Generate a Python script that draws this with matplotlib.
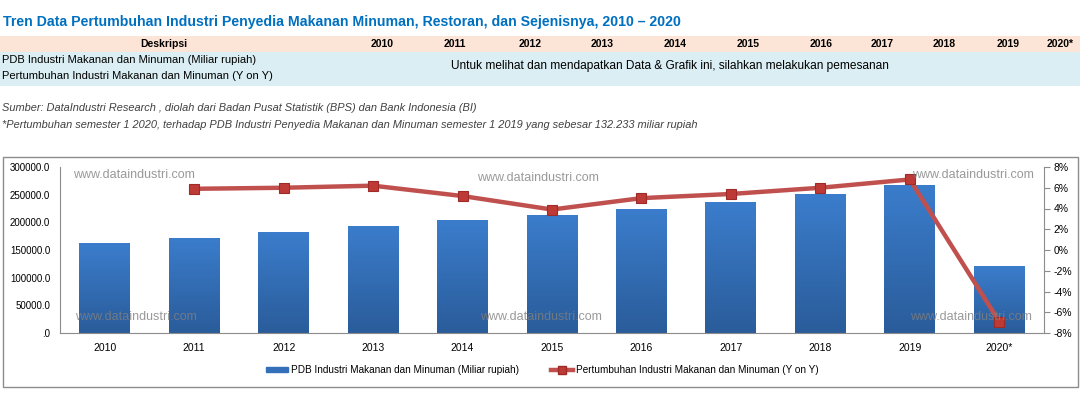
import matplotlib.pyplot as plt
import matplotlib.patches as mpatches
from matplotlib.lines import Line2D
from matplotlib.colors import LinearSegmentedColormap
import numpy as np

years = ['2010', '2011', '2012', '2013', '2014', '2015', '2016', '2017', '2018', '2019', '2020*']
pdb = [162600, 171700, 182500, 193400, 204200, 213200, 224000, 236700, 251200, 268000, 121000]
growth = [None, 5.9, 6.0, 6.2, 5.2, 3.9, 5.0, 5.4, 6.0, 6.8, -6.9]

head_years = years
head_x = [382, 455, 530, 602, 675, 748, 821, 882, 944, 1008, 1060]

W, H = 1088, 397
plt.rcParams['font.family'] = ['Liberation Sans', 'DejaVu Sans']

fig = plt.figure(figsize=(W / 100, H / 100), dpi=100)


def fx(x):
    return x / W


def fy(y):
    return 1 - y / H


# header table
fig.patches.append(mpatches.Rectangle((fx(0), fy(52)), fx(1080), 16 / H, transform=fig.transFigure,
                                      facecolor='#FCE4D6', edgecolor='none', zorder=-2))
fig.patches.append(mpatches.Rectangle((fx(0), fy(86)), fx(1080), 34 / H, transform=fig.transFigure,
                                      facecolor='#DAEEF3', edgecolor='none', zorder=-2))
fig.text(fx(3), fy(22), 'Tren Data Pertumbuhan Industri Penyedia Makanan Minuman, Restoran, dan Sejenisnya, 2010 \u2013 2020',
         color='#0070C0', fontsize=10.2, fontweight='bold', va='center')
fig.text(fx(164), fy(44), 'Deskripsi', fontsize=7.5, fontweight='bold', ha='center', va='center')
for hx, t in zip(head_x, head_years):
    fig.text(fx(hx), fy(44), t, fontsize=7.5, fontweight='bold', ha='center', va='center')
fig.text(fx(2), fy(60), 'PDB Industri Makanan dan Minuman (Miliar rupiah)', fontsize=8, va='center')
fig.text(fx(2), fy(76), 'Pertumbuhan Industri Makanan dan Minuman (Y on Y)', fontsize=8, va='center')
fig.text(fx(670), fy(66), 'Untuk melihat dan mendapatkan Data & Grafik ini, silahkan melakukan pemesanan',
         fontsize=8.6, ha='center', va='center')
fig.text(fx(2), fy(108), 'Sumber: DataIndustri Research , diolah dari Badan Pusat Statistik (BPS) dan Bank Indonesia (BI)',
         fontsize=7.9, style='italic', color='#404040', va='center')
fig.text(fx(2), fy(125), '*Pertumbuhan semester 1 2020, terhadap PDB Industri Penyedia Makanan dan Minuman semester 1 2019 yang sebesar 132.233 miliar rupiah',
         fontsize=7.9, style='italic', color='#404040', va='center')

# chart frame
fig.patches.append(mpatches.Rectangle((fx(3), fy(387)), 1075 / W, 230 / H, transform=fig.transFigure,
                                      facecolor='none', edgecolor='#8c8c8c', linewidth=1, zorder=-1))

ax = fig.add_axes([fx(60), fy(333), 984 / W, 166 / H])
x = np.arange(len(years))
bars = ax.bar(x, pdb, width=0.57, color='#3470BA', zorder=2)
grad = np.linspace(0, 1, 256).reshape(-1, 1)
cmap = LinearSegmentedColormap.from_list('g', ['#2A5C9A', '#3B7DCC'])
for b in bars:
    im = ax.imshow(grad, extent=[b.get_x(), b.get_x() + b.get_width(), 0, b.get_height()],
                   origin='lower', aspect='auto', cmap=cmap, zorder=2)
    im.set_clip_path(b)
ax.set_xlim(-0.5, len(years) - 0.5)
ax.set_ylim(0, 300000)
ax.set_yticks(np.arange(0, 300001, 50000))
ax.set_yticklabels(['.0' if v == 0 else '%d.0' % v for v in range(0, 300001, 50000)])
ax.set_xticks(x)
ax.set_xticklabels(years)
ax.tick_params(axis='y', length=0, labelsize=7, pad=7)
ax.tick_params(axis='x', length=0, labelsize=7.5, pad=7)
for s in ['top', 'right']:
    ax.spines[s].set_visible(False)
for s in ['left', 'bottom']:
    ax.spines[s].set_color('#8c8c8c')

ax2 = ax.twinx()
gx = [i for i, g in enumerate(growth) if g is not None]
gy = [g for g in growth if g is not None]
ax2.plot(gx, gy, color='#C0504D', linewidth=3.2, marker='s', markersize=7.5,
         markerfacecolor='#BE3A36', markeredgecolor='#9E2B28', markeredgewidth=0.8, zorder=3)
ax2.set_ylim(-8, 8)
ax2.set_yticks(np.arange(-8, 9, 2))
ax2.set_yticklabels(['%d%%' % v for v in range(-8, 9, 2)])
ax2.tick_params(axis='y', length=4, color='#8c8c8c', labelsize=7.5, pad=3)
for s in ['top', 'left', 'bottom']:
    ax2.spines[s].set_visible(False)
ax2.spines['right'].set_color('#8c8c8c')
ax2.set_xlim(-0.5, len(years) - 0.5)

# watermarks
for wx, wy in [(73, 175), (477, 178), (912, 175), (75, 317), (480, 317), (910, 317)]:
    fig.text(fx(wx), fy(wy), 'www.dataindustri.com', fontsize=9, color='#808080', alpha=0.8,
             va='center', zorder=10)

# legend
handles = [mpatches.Patch(color='#3470BA'),
           Line2D([0], [0], color='#C0504D', linewidth=3.2, marker='s', markersize=6,
                  markerfacecolor='#BE3A36', markeredgecolor='#9E2B28')]
labels = ['PDB Industri Makanan dan Minuman (Miliar rupiah)', 'Pertumbuhan Industri Makanan dan Minuman (Y on Y)']
fig.legend(handles, labels, loc='center', bbox_to_anchor=(fx(542), fy(370)), ncol=2, frameon=False,
           fontsize=7.2, handlelength=2.2, handleheight=0.5, columnspacing=3.2, handletextpad=0.3)

fig.savefig('out.png', dpi=100)
